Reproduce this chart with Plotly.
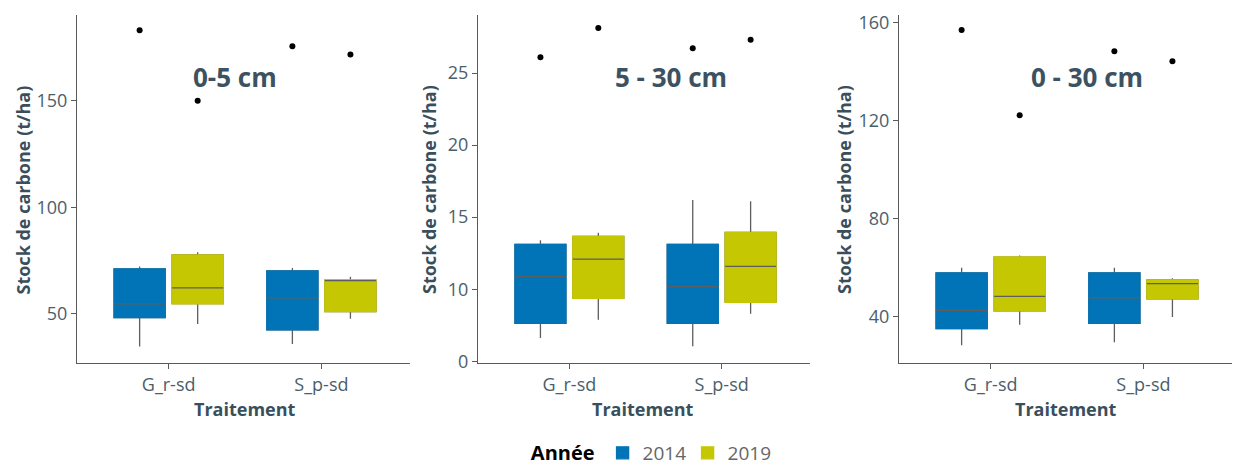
import plotly.graph_objects as go

# Treatments and years
traitements = ["G_r-sd", "S_p-sd"]
annees = ["2014", "2019"]
couleurs = {"2014": "#0074B7", "2019": "#C5C703"}

# Box statistics per depth layer and year (t/ha), one value per treatment
stats = {
    "0-5 cm": {
        "2014": dict(q1=[48.3, 42.6], median=[54.7, 57.5], q3=[71.1, 70.2],
                     low=[34.7, 35.9], high=[72.2, 71.6], outliers=[183.1, 175.5]),
        "2019": dict(q1=[54.8, 51.1], median=[62.2, 65.6], q3=[77.7, 65.9],
                     low=[45.3, 47.8], high=[78.9, 67.5], outliers=[150.0, 171.7]),
    },
    "5 - 30 cm": {
        "2014": dict(q1=[7.64, 7.64], median=[10.88, 10.17], q3=[13.11, 13.11],
                     low=[6.62, 6.04], high=[13.39, 16.19], outliers=[26.09, 26.72]),
        "2019": dict(q1=[9.37, 9.10], median=[12.09, 11.58], q3=[13.66, 13.94],
                     low=[7.89, 8.29], high=[13.92, 16.10], outliers=[28.12, 27.32]),
    },
    "0 - 30 cm": {
        "2014": dict(q1=[35.1, 37.3], median=[42.6, 47.7], q3=[57.8, 57.8],
                     low=[28.3, 29.6], high=[59.9, 59.9], outliers=[156.9, 148.2]),
        "2019": dict(q1=[42.4, 47.3], median=[48.3, 53.5], q3=[64.3, 55.0],
                     low=[36.7, 39.9], high=[64.9, 55.7], outliers=[122.1, 144.1]),
    },
}

# Axis settings per panel
y_ranges = [[27.0, 190.2], [4.88, 29.03], [21.1, 163.0]]
y_tickvals = [[50, 100, 150], [5, 10, 15, 20, 25], [40, 80, 120, 160]]
y_ticktext = [["50", "100", "150"], ["0", "10", "15", "20", "25"], ["40", "80", "120", "160"]]

W, H = 1235, 465
x_domains_px = [(77, 410), (478, 810), (899, 1232)]
y_domain = [1 - 363 / H, 1 - 15 / H]

FONT = "Open Sans"
TICK_COL = "#4B5E6B"
TITLE_COL = "#3A4F5C"
AXIS_COL = "#5A5A5A"
MED_COL = "#5E5E5E"

fig = go.Figure()

for p, (layer, par_annee) in enumerate(stats.items()):
    xa = "x" if p == 0 else f"x{p + 1}"
    ya = "y" if p == 0 else f"y{p + 1}"
    for an in annees:
        s = par_annee[an]
        col = couleurs[an]
        # whiskers (grey)
        fig.add_trace(go.Box(
            x=traitements, q1=s["q1"], median=s["median"], q3=s["q3"],
            lowerfence=s["low"], upperfence=s["high"],
            fillcolor=col, line=dict(color=MED_COL, width=1.3), whiskerwidth=0,
            offsetgroup=an, xaxis=xa, yaxis=ya, showlegend=False, hoverinfo="skip"))
        # box body without outline
        fig.add_trace(go.Box(
            x=traitements, q1=s["q1"], median=s["median"], q3=s["q3"],
            lowerfence=s["q1"], upperfence=s["q3"],
            fillcolor=col, line=dict(color=col, width=1.4), whiskerwidth=0,
            offsetgroup=an, xaxis=xa, yaxis=ya, name=an, legendgroup=an,
            showlegend=(p == 0)))
        # median line
        fig.add_trace(go.Box(
            x=traitements, q1=s["median"], median=s["median"], q3=s["median"],
            lowerfence=s["median"], upperfence=s["median"],
            fillcolor="rgba(0,0,0,0)", line=dict(color=MED_COL, width=1.3),
            whiskerwidth=0, offsetgroup=an, xaxis=xa, yaxis=ya,
            showlegend=False, hoverinfo="skip"))
        # outliers
        fig.add_trace(go.Scatter(
            x=traitements, y=s["outliers"], mode="markers",
            marker=dict(color="black", size=6), offsetgroup=an,
            xaxis=xa, yaxis=ya, showlegend=False))

layout = dict(
    width=W, height=H,
    margin=dict(l=0, r=0, t=0, b=0, autoexpand=False),
    paper_bgcolor="white", plot_bgcolor="white",
    boxmode="group", boxgap=0.24, boxgroupgap=0.12,
    scattermode="group", scattergap=0.24,
    font=dict(family=FONT, color=TICK_COL, size=18),
    showlegend=True,
    legend=dict(
        orientation="h", x=0.527, xanchor="center", y=1 - 453 / H, yanchor="middle",
        title=dict(text="<b>Année</b>", font=dict(color="black", size=20, family=FONT)),
        font=dict(color="#666666", size=19, family=FONT),
        itemwidth=30, traceorder="normal", entrywidth=40, entrywidthmode="pixels",
    ),
)

for p in range(3):
    sfx = "" if p == 0 else str(p + 1)
    x0, x1 = x_domains_px[p]
    layout[f"xaxis{sfx}"] = dict(
        domain=[x0 / W, x1 / W], anchor=f"y{sfx}", type="category",
        range=[-0.6, 1.58], showline=True, linecolor=AXIS_COL, linewidth=1,
        ticks="outside", ticklen=5, tickcolor=AXIS_COL, showgrid=False,
        zeroline=False, tickfont=dict(color=TICK_COL, size=18), fixedrange=True)
    layout[f"yaxis{sfx}"] = dict(
        domain=y_domain, anchor=f"x{sfx}", range=y_ranges[p],
        tickvals=y_tickvals[p], ticktext=y_ticktext[p],
        showline=True, linecolor=AXIS_COL, linewidth=1,
        ticks="outside", ticklen=5, tickcolor=AXIS_COL, showgrid=False,
        zeroline=False, tickfont=dict(color=TICK_COL, size=18), fixedrange=True)

fig.update_layout(**layout)

# Panel titles, axis titles
panel_titles = list(stats.keys())
panel_title_x = [234.5, 670.5, 1086.7]
ytitle_x = [22.5, 429, 844]
xtitle_x = [245, 642.5, 1065.5]
for p in range(3):
    fig.add_annotation(text=f"<b>{panel_titles[p]}</b>", xref="paper", yref="paper",
                       x=panel_title_x[p] / W, y=1 - 77 / H, showarrow=False,
                       xanchor="center", yanchor="middle",
                       font=dict(size=26, color="#3D5260", family=FONT))
    fig.add_annotation(text="<b>Stock de carbone (t/ha)</b>", xref="paper", yref="paper",
                       x=ytitle_x[p] / W, y=1 - 190 / H, textangle=-90, showarrow=False,
                       xanchor="center", yanchor="middle",
                       font=dict(size=18, color=TITLE_COL, family=FONT))
    fig.add_annotation(text="<b>Traitement</b>", xref="paper", yref="paper",
                       x=xtitle_x[p] / W, y=1 - 409 / H, showarrow=False,
                       xanchor="center", yanchor="middle",
                       font=dict(size=18, color=TITLE_COL, family=FONT))

fig.write_html("out.html")
